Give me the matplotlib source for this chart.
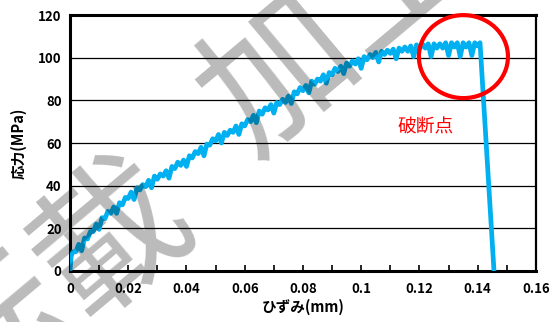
import matplotlib
matplotlib.use('Agg')
import matplotlib.pyplot as plt
from matplotlib.patches import Ellipse

plt.rcParams['font.family'] = ['Noto Sans CJK JP', 'DejaVu Sans']

# strain in thousandths (x1e-3)
strain_milli = [0, 0.4,
    1, 2, 3, 4, 5, 6, 7, 8, 9, 10, 11, 12, 13, 14, 15, 16, 17, 18, 19, 20,
    21, 22, 23, 24, 25, 26, 27, 28, 29, 30, 31, 32, 33, 34, 35, 36, 37, 38, 39, 40,
    41, 42, 43, 44, 45, 46, 47, 48, 49, 50, 51, 52, 53, 54, 55, 56, 57, 58, 59, 60,
    61, 62, 63, 64, 65, 66, 67, 68, 69, 70, 71, 72, 73, 74, 75, 76, 77, 78, 79, 80,
    81, 82, 83, 84, 85, 86, 87, 88, 89, 90, 91, 92, 93, 94, 95, 96, 97, 98, 99, 100,
    101, 102, 103, 104, 105, 106, 107, 108, 109, 110, 111, 112, 113, 114, 115, 116, 117, 118, 119, 120,
    121, 122, 123, 124, 125, 126, 127, 128, 129, 130, 131, 132, 133, 134, 135, 136, 137, 138, 139, 140,
    140.8, 145.6]

# stress (MPa), noisy measured curve
stress = [0, 7,
    9, 9, 12.5, 9.5, 15.5, 15, 18.5, 18.5, 22, 19.5,
    25, 24.5, 28, 27, 30, 27, 32, 31, 34.5, 34,
    37, 33.5, 39, 38, 40.5, 39.5, 42.5, 39, 44.5, 43,
    45.5, 44.5, 47, 43.5, 49, 48, 51, 49.5, 52, 49,
    54, 53, 56, 55, 58, 54, 59.5, 59, 62, 61,
    64, 60, 65, 63.5, 66, 65, 68, 64, 69, 68,
    71, 70, 73, 69.5, 75, 73.5, 76.5, 75.5, 78, 74,
    79, 78, 80.5, 79, 82, 78.5, 84, 83, 86, 84.5,
    87, 83.5, 89, 87.5, 90, 89, 92, 88, 93, 92,
    95, 93.5, 96, 92.5, 97.5, 96, 98.5, 97, 99.5, 95,
    100.5, 99, 101.5, 100, 102.5, 98, 103, 101.5, 103.5, 102,
    104, 99.5, 104.5, 103, 105, 103, 105.5, 100.5, 106, 104,
    106.5, 104.5, 106.5, 100.5, 106.5, 104.5, 106.5, 104.5, 107, 101,
    107, 105, 107, 100.5, 107, 105, 107, 101, 107, 105.5,
    107, 0]

strain = [v / 1000 for v in strain_milli]

x_ticks = [0, 0.02, 0.04, 0.06, 0.08, 0.1, 0.12, 0.14, 0.16]
x_labels = ['0', '0.02', '0.04', '0.06', '0.08', '0.1', '0.12', '0.14', '0.16']
y_ticks = [0, 20, 40, 60, 80, 100, 120]

fig = plt.figure(figsize=(5.56, 3.22), dpi=100)
ax = fig.add_axes([0.1259, 0.1584, 0.838, 0.795])

ax.plot(strain, stress, color='#00B0F0', linewidth=3.4, zorder=3)

ax.set_xlim(0, 0.16)
ax.set_ylim(0, 120)
ax.set_xticks(x_ticks)
ax.set_xticklabels(x_labels)
ax.set_xticks([0.01, 0.03, 0.05, 0.07, 0.09, 0.11, 0.13, 0.15], minor=True)
ax.set_yticks(y_ticks)
ax.tick_params(axis='x', which='both', direction='in', length=4, width=1.2, color='black', pad=8)
ax.tick_params(axis='y', length=0, pad=6)
for lab in ax.get_xticklabels() + ax.get_yticklabels():
    lab.set_fontsize(9.5)
    lab.set_fontweight('bold')

ax.grid(axis='y', color='black', linewidth=0.9)
ax.set_axisbelow(True)
for side in ['left', 'bottom', 'top']:
    ax.spines[side].set_linewidth(2.2)
ax.spines['right'].set_linewidth(1.6)

ax.set_xlabel('ひずみ(mm)', fontsize=10.5, fontweight='bold', labelpad=2)
ax.set_ylabel('応力(MPa)', fontsize=10.5, fontweight='bold', labelpad=8)

# break point annotation
ax.add_patch(Ellipse((0.1351, 100.5), 0.0306, 38.9, fill=False, edgecolor='red',
                     linewidth=3, clip_on=False, zorder=5))
ax.text(0.1222, 67.5, '破断点', color='red', fontsize=13.5, ha='center', va='center')

# watermark in two pieces (black at low alpha darkens the line like a multiply)
wm = dict(fontsize=108, color='black', alpha=0.27, rotation=40,
          rotation_mode='anchor', va='center', zorder=10)
fig.text(0.309, 0.404, '無断転載', ha='right', **wm)
fig.text(0.401, 0.615, '加工禁止', ha='left', **wm)

fig.savefig('out.png', dpi=100)
